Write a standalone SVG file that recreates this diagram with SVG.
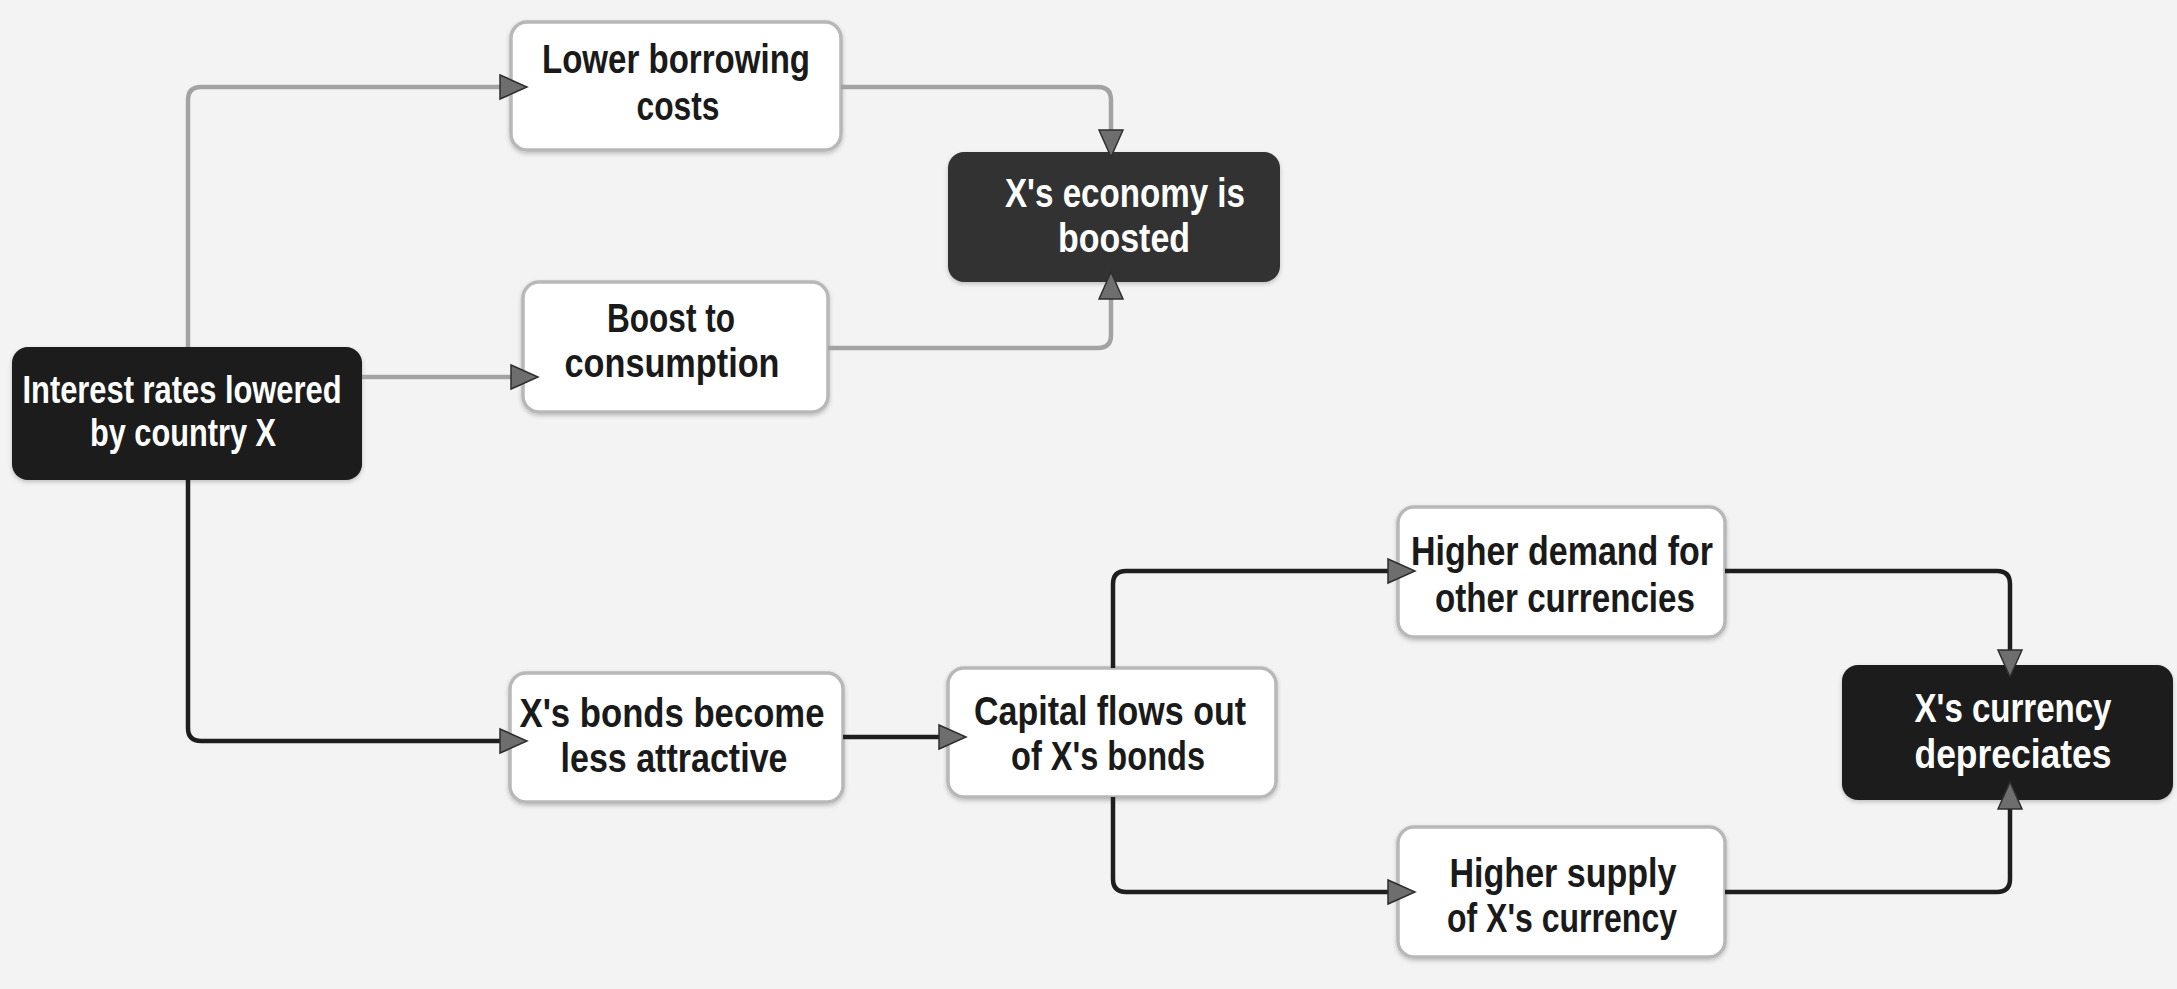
<svg xmlns="http://www.w3.org/2000/svg" width="2177" height="989" viewBox="0 0 2177 989">
<defs>
<style>
.bg{fill:#f3f3f3}
.wbox{fill:#ffffff;stroke:#b8b8b8;stroke-width:3.5}
.kbox{fill:#1b1b1b}
.gbox{fill:#333333}
.t{font-family:"Liberation Sans",Arial,sans-serif;font-weight:700;font-size:40px;text-anchor:middle}
.s{font-size:38px}
.dk{fill:#1a1a1a}
.wt{fill:#ffffff}
.cg{fill:none;stroke:#a3a3a3;stroke-width:4.5}
.cd{fill:none;stroke:#1e1e1e;stroke-width:4.5}
</style>
<filter id="sh" x="-10%" y="-10%" width="120%" height="130%">
<feDropShadow dx="0" dy="2" stdDeviation="2" flood-color="#000" flood-opacity="0.22"/>
</filter>
<marker id="ah" markerUnits="userSpaceOnUse" viewBox="-1 -14 30 28" markerWidth="30" markerHeight="28" refX="0" refY="0" orient="auto">
<path d="M0,-12 L27,0 L0,12 Z" fill="#6e6e6e" stroke="#2e2e2e" stroke-width="1.5"/>
</marker>
</defs>
<rect class="bg" x="0" y="0" width="2177" height="989"/>

<g id="interest">
<rect class="kbox" filter="url(#sh)" x="12" y="347" width="350" height="133" rx="16"/>
<text class="t s wt" x="182" y="403" textLength="319" lengthAdjust="spacingAndGlyphs">Interest rates lowered</text>
<text class="t s wt" x="183" y="446" textLength="186" lengthAdjust="spacingAndGlyphs">by country X</text>
</g>

<g id="lower">
<rect class="wbox" filter="url(#sh)" x="511" y="22" width="330" height="128" rx="16"/>
<text class="t dk" x="676" y="73" textLength="268" lengthAdjust="spacingAndGlyphs">Lower borrowing</text>
<text class="t dk" x="678" y="120" textLength="83" lengthAdjust="spacingAndGlyphs">costs</text>
</g>

<g id="economy">
<rect class="gbox" filter="url(#sh)" x="948" y="152" width="332" height="130" rx="16"/>
<text class="t wt" x="1125" y="207" textLength="240" lengthAdjust="spacingAndGlyphs">X's economy is</text>
<text class="t wt" x="1124" y="252" textLength="132" lengthAdjust="spacingAndGlyphs">boosted</text>
</g>

<g id="boost">
<rect class="wbox" filter="url(#sh)" x="523" y="282" width="305" height="130" rx="16"/>
<text class="t dk" x="671" y="332" textLength="128" lengthAdjust="spacingAndGlyphs">Boost to</text>
<text class="t dk" x="672" y="377" textLength="215" lengthAdjust="spacingAndGlyphs">consumption</text>
</g>

<g id="bonds">
<rect class="wbox" filter="url(#sh)" x="510" y="673" width="333" height="129" rx="16"/>
<text class="t dk" x="672" y="727" textLength="305" lengthAdjust="spacingAndGlyphs">X's bonds become</text>
<text class="t dk" x="674" y="772" textLength="227" lengthAdjust="spacingAndGlyphs">less attractive</text>
</g>

<g id="capital">
<rect class="wbox" filter="url(#sh)" x="948" y="668" width="328" height="129" rx="16"/>
<text class="t dk" x="1110" y="725" textLength="272" lengthAdjust="spacingAndGlyphs">Capital flows out</text>
<text class="t dk" x="1108" y="770" textLength="194" lengthAdjust="spacingAndGlyphs">of X's bonds</text>
</g>

<g id="demand">
<rect class="wbox" filter="url(#sh)" x="1398" y="507" width="327" height="130" rx="16"/>
<text class="t dk" x="1562" y="565" textLength="302" lengthAdjust="spacingAndGlyphs">Higher demand for</text>
<text class="t dk" x="1565" y="612" textLength="260" lengthAdjust="spacingAndGlyphs">other currencies</text>
</g>

<g id="supply">
<rect class="wbox" filter="url(#sh)" x="1398" y="827" width="327" height="130" rx="16"/>
<text class="t dk" x="1563" y="887" textLength="227" lengthAdjust="spacingAndGlyphs">Higher supply</text>
<text class="t dk" x="1562" y="932" textLength="230" lengthAdjust="spacingAndGlyphs">of X's currency</text>
</g>

<g id="currency">
<rect class="kbox" filter="url(#sh)" x="1842" y="665" width="331" height="135" rx="16"/>
<text class="t wt" x="2013" y="722" textLength="197" lengthAdjust="spacingAndGlyphs">X's currency</text>
<text class="t wt" x="2013" y="768" textLength="197" lengthAdjust="spacingAndGlyphs">depreciates</text>
</g>

<g id="connectors">
<path class="cg" marker-end="url(#ah)" d="M188,347 L188,100 Q188,87 201,87 L500,87"/>
<path class="cg" marker-end="url(#ah)" d="M362,377 L511,377"/>
<path class="cg" marker-end="url(#ah)" d="M841,87 L1098,87 Q1111,87 1111,100 L1111,130"/>
<path class="cg" marker-end="url(#ah)" d="M828,348 L1098,348 Q1111,348 1111,335 L1111,299"/>
<path class="cd" marker-end="url(#ah)" d="M188,480 L188,728 Q188,741 201,741 L500,741"/>
<path class="cd" marker-end="url(#ah)" d="M843,737 L939,737"/>
<path class="cd" marker-end="url(#ah)" d="M1113,668 L1113,584 Q1113,571 1126,571 L1388,571"/>
<path class="cd" marker-end="url(#ah)" d="M1113,797 L1113,879 Q1113,892 1126,892 L1388,892"/>
<path class="cd" marker-end="url(#ah)" d="M1725,571 L1997,571 Q2010,571 2010,584 L2010,650"/>
<path class="cd" marker-end="url(#ah)" d="M1725,892 L1997,892 Q2010,892 2010,879 L2010,809"/>
</g>
</svg>
